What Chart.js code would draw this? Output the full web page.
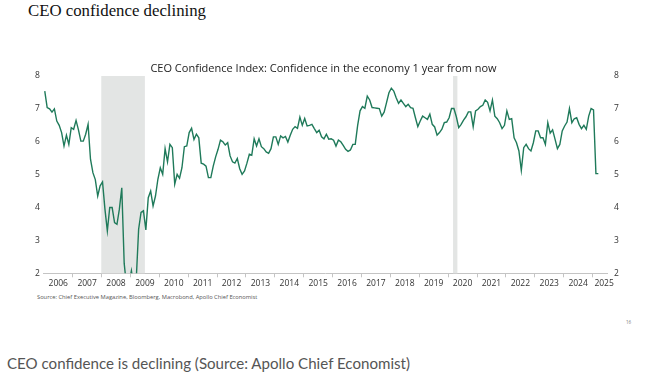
<!DOCTYPE html>
<html>
<head>
<meta charset="utf-8">
<script src="https://cdn.jsdelivr.net/npm/chart.js@4.4.1/dist/chart.umd.min.js"></script>
<style>
  body { margin: 0; background: #fff; width: 647px; height: 378px; position: relative; overflow: hidden; font-family: "Open Sans", sans-serif; }
  #head { position: absolute; left: 28px; top: 3px; font-family: "Liberation Serif", serif; font-size: 16.8px; line-height: 1; color: #111; white-space: nowrap; }
  #wrap { position: absolute; left: 0; top: 55px; width: 647px; height: 235px; }
  #source { position: absolute; left: 37px; top: 295px; font-size: 5.75px; line-height: 1; color: #555; white-space: nowrap; }
  #page { position: absolute; left: 626px; top: 320px; font-size: 4.5px; line-height: 1; color: #777; }
  #caption { position: absolute; left: 7px; top: 356px; font-family: Lato, sans-serif; font-size: 15.1px; line-height: 1; color: #555; white-space: nowrap; }
</style>
</head>
<body>
<div id="head">CEO confidence declining</div>
<div id="wrap"><canvas id="ceoChart"></canvas></div>
<div id="source">Source: Chief Executive Magazine, Bloomberg, Macrobond, Apollo Chief Economist</div>
<div id="page">16</div>
<div id="caption">CEO confidence is declining (Source: Apollo Chief Economist)</div>
<script>
// Monthly index values, Jan 2006 onwards
const startYear = 2006;
const ceoConfidence = [
  7.54, 7.04, 7.00, 6.90, 7.00, 6.63, 6.50, 6.28, 5.87, 6.20, 5.92, 6.43, // 2006
  6.38, 6.65, 6.36, 6.02, 6.02, 6.23, 6.53, 5.47, 5.06, 4.85, 4.35, 4.66, // 2007
  4.78, 3.95, 3.29, 4.00, 4.00, 3.54, 3.49, 3.95, 4.60, 2.30, 1.60, 1.70, // 2008
  2.08, 1.60, 1.80, 3.34, 3.85, 3.90, 3.32, 4.30, 4.50, 4.05, 4.35, 4.86, // 2009
  5.21, 5.01, 5.79, 5.39, 5.92, 5.82, 4.71, 5.01, 4.89, 5.21, 5.85, 5.87, // 2010
  6.28, 6.41, 6.07, 6.23, 6.12, 5.35, 5.32, 5.26, 4.91, 4.91, 5.26, 5.54, // 2011
  5.77, 6.05, 6.00, 5.90, 5.97, 5.57, 5.39, 5.35, 5.49, 5.18, 5.01, 5.11, // 2012
  5.35, 5.62, 5.59, 6.09, 5.87, 6.09, 5.85, 5.79, 5.69, 5.65, 5.79, 6.15, // 2013
  6.15, 5.92, 6.18, 6.12, 6.16, 5.99, 6.20, 6.38, 6.46, 6.41, 6.75, 6.50, // 2014
  6.71, 6.48, 6.50, 6.53, 6.40, 6.28, 6.35, 6.15, 6.09, 6.23, 6.08, 6.09, // 2015
  6.05, 5.87, 6.05, 6.00, 5.89, 5.77, 5.71, 5.75, 5.92, 5.92, 6.50, 6.94, // 2016
  7.07, 7.02, 7.39, 7.27, 7.04, 7.03, 7.02, 7.01, 6.78, 6.90, 7.19, 7.49, // 2017
  7.63, 7.54, 7.34, 7.17, 7.27, 7.17, 7.07, 7.14, 7.04, 7.02, 6.73, 6.46, // 2018
  6.63, 6.78, 6.73, 6.68, 6.84, 6.53, 6.45, 6.20, 6.28, 6.38, 6.58, 6.60, // 2019
  6.73, 7.01, 7.01, 6.76, 6.43, 6.53, 6.66, 6.76, 6.91, 6.91, 6.46, 6.94, // 2020
  6.99, 7.07, 7.11, 7.27, 7.20, 6.94, 7.27, 6.78, 6.70, 6.58, 6.40, 6.50, // 2021
  6.94, 6.68, 6.70, 6.12, 5.97, 5.72, 5.13, 5.82, 5.92, 5.79, 5.72, 5.97, // 2022
  6.33, 6.33, 6.12, 6.12, 5.92, 6.58, 6.26, 6.36, 6.08, 5.79, 5.92, 6.33, // 2023
  6.48, 6.60, 7.01, 6.58, 6.70, 6.73, 6.53, 6.40, 6.50, 6.38, 6.78, 7.01, // 2024
  6.97, 5.03, 5.03                                                        // 2025
];

// x axis year labels
const yearLabels = [2006, 2007, 2008, 2009, 2010, 2011, 2012, 2013, 2014, 2015,
                    2016, 2017, 2018, 2019, 2020, 2021, 2022, 2023, 2024, 2025];
// y axis range
const yMin = 2, yMax = 8;
// recession periods (decimal years)
const recessionStart = [2007.99, 2020.17];
const recessionEnd = [2009.5, 2020.32];

const points = ceoConfidence.map((v, i) => ({ x: startYear + (i + 0.4) / 12, y: v }));

// grey recession bars behind the line
const shadePlugin = {
    id: 'shade',
    beforeDatasetsDraw(chart) {
        const { ctx, chartArea, scales } = chart;
        ctx.save();
        ctx.fillStyle = '#e3e5e4';
        recessionStart.forEach((s, i) => {
            const x0 = scales.x.getPixelForValue(s);
            const x1 = scales.x.getPixelForValue(recessionEnd[i]);
            ctx.fillRect(x0, chartArea.top, x1 - x0, chartArea.bottom - chartArea.top);
        });
        ctx.restore();
    }
};

const axisFont = { family: 'Open Sans', size: 8.5 };

new Chart(document.getElementById('ceoChart'), {
    type: 'line',
    data: {
        datasets: [{
            data: points,
            borderColor: '#1f7a5a',
            borderWidth: 1.4,
            pointRadius: 0,
            tension: 0,
            fill: false
        }]
    },
    options: {
        responsive: true,
        maintainAspectRatio: false,
        animation: false,
        layout: { padding: 0 },
        plugins: {
            legend: { display: false },
            tooltip: { enabled: false },
            title: {
                display: true,
                text: 'CEO Confidence Index: Confidence in the economy 1 year from now',
                color: '#222',
                font: { family: 'Open Sans', size: 11, weight: 'normal' },
                padding: { top: 7.5, bottom: 0.3 }
            }
        },
        scales: {
            x: {
                type: 'linear',
                min: 2006,
                max: 2025.5,
                afterBuildTicks(scale) {
                    const ticks = [];
                    yearLabels.forEach(yr => {
                        if (yr > yearLabels[0]) ticks.push({ value: yr });
                        ticks.push({ value: yr === yearLabels[yearLabels.length - 1] ? yr + 0.4 : yr + 0.5 });
                    });
                    scale.ticks = ticks;
                },
                afterFit(scale) { scale.height = 16.7; },
                ticks: {
                    autoSkip: false,
                    maxRotation: 0,
                    padding: 1.5,
                    color: '#333',
                    font: axisFont,
                    callback: v => Number.isInteger(v) ? '' : String(Math.floor(v))
                },
                grid: {
                    display: true,
                    drawOnChartArea: false,
                    drawTicks: true,
                    tickLength: 4,
                    tickColor: c => (c.tick && Number.isInteger(c.tick.value)) ? '#c4c4c4' : 'rgba(0,0,0,0)'
                },
                border: { display: true, color: '#c4c4c4', width: 1 }
            },
            y: {
                position: 'left',
                min: yMin,
                max: yMax,
                afterFit(scale) { scale.width = 43.8; },
                ticks: { stepSize: 1, padding: 4, color: '#333', font: axisFont },
                grid: { display: false, drawTicks: false },
                border: { display: false }
            },
            y2: {
                position: 'right',
                min: yMin,
                max: yMax,
                afterFit(scale) { scale.width = 40; },
                ticks: { stepSize: 1, padding: 7, color: '#333', font: axisFont },
                grid: { display: false, drawTicks: false },
                border: { display: false }
            }
        }
    },
    plugins: [shadePlugin]
});
</script>
</body>
</html>
